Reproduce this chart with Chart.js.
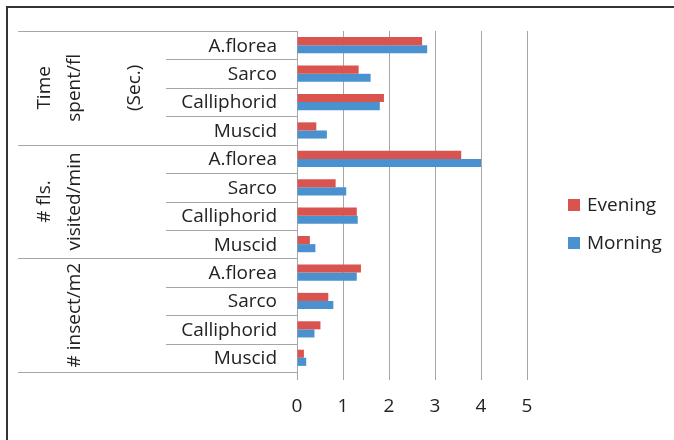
<!DOCTYPE html>
<html>
<head>
<meta charset="utf-8">
<script src="https://cdn.jsdelivr.net/npm/chart.js@4/dist/chart.umd.min.js"></script>
<style>
  html, body { margin: 0; padding: 0; background: #fff; }
  #wrap { width: 674px; height: 440px; position: relative; }
</style>
</head>
<body>
<div id="wrap"><canvas id="c" width="674" height="440"></canvas></div>
<script>
// Insect visitors, grouped by measure (top to bottom)
const insects = ['A.florea', 'Sarco', 'Calliphorid', 'Muscid'];
const groupLines = [
  ['Time', 'spent/fl', '', '(Sec.)'],
  ['# fls.', 'visited/min'],
  ['', '# insect/m2']
];
const categories = [].concat(insects, insects, insects);

const evening = [2.72, 1.34, 1.89, 0.42,  3.57, 0.84, 1.30, 0.28,  1.39, 0.68, 0.51, 0.15];
const morning = [2.83, 1.60, 1.80, 0.65,  4.00, 1.07, 1.32, 0.40,  1.30, 0.79, 0.38, 0.20];
const xTicks = [0, 1, 2, 3, 4, 5];

const FONT = '"Open Sans", sans-serif';
const TEXT = '#222';
const RULE = '#a6a6a6';

// Frame, two-level category axis and legend
const decor = {
  id: 'decor',
  beforeDraw(chart) {
    const ctx = chart.ctx;
    ctx.save();
    ctx.fillStyle = '#fff';
    ctx.fillRect(0, 0, chart.width, chart.height);
    ctx.fillStyle = '#333';
    ctx.fillRect(6, 6, chart.width - 6, 2);
    ctx.fillRect(6, 6, 2, chart.height - 6);
    ctx.restore();
  },
  afterDraw(chart) {
    const ctx = chart.ctx;
    const y = chart.scales.y;
    const area = chart.chartArea;
    const n = categories.length;
    const edge = i => {
      if (i <= 0) return area.top;
      if (i >= n) return area.bottom;
      return (y.getPixelForValue(i - 1) + y.getPixelForValue(i)) / 2;
    };
    const axisX = area.left;
    const outerX = 18, innerX = 166;

    ctx.save();
    ctx.strokeStyle = RULE;
    ctx.lineWidth = 1;
    for (let i = 0; i <= n; i++) {
      const py = Math.round(edge(i)) + 0.5;
      const x0 = (i % insects.length === 0) ? outerX : innerX;
      ctx.beginPath();
      ctx.moveTo(x0, py);
      ctx.lineTo(axisX, py);
      ctx.stroke();
    }

    // insect names
    ctx.fillStyle = TEXT;
    ctx.font = '19px ' + FONT;
    ctx.textAlign = 'right';
    ctx.textBaseline = 'middle';
    categories.forEach((lab, i) => {
      ctx.fillText(lab, axisX - 20, y.getPixelForValue(i) + 1);
    });

    // measure names, rotated
    ctx.textAlign = 'center';
    groupLines.forEach((lines, g) => {
      const cy = (edge(g * insects.length) + edge((g + 1) * insects.length)) / 2;
      lines.forEach((line, k) => {
        if (!line) return;
        const cx = 45 + k * 30;
        ctx.save();
        ctx.translate(cx, cy);
        ctx.rotate(-Math.PI / 2);
        ctx.fillText(line, 0, 0);
        ctx.restore();
      });
    });

    // legend, centred on the whole canvas height
    const lx = area.right + 41;
    const cyMid = chart.height / 2 + 4;
    chart.data.datasets.forEach((ds, k) => {
      const ly = cyMid + (k === 0 ? -19 : 19);
      ctx.fillStyle = ds.backgroundColor;
      ctx.fillRect(lx, ly - 6, 12, 12);
      ctx.fillStyle = TEXT;
      ctx.textAlign = 'left';
      ctx.fillText(ds.label, lx + 19, ly + 1);
    });
    ctx.restore();
  }
};

new Chart(document.getElementById('c'), {
  type: 'bar',
  data: {
    labels: categories,
    datasets: [
      { label: 'Evening', data: evening, backgroundColor: '#D9534F' },
      { label: 'Morning', data: morning, backgroundColor: '#4A92CF' }
    ]
  },
  options: {
    indexAxis: 'y',
    responsive: false,
    animation: false,
    devicePixelRatio: 1,
    layout: { padding: { left: 297, right: 147, top: 31, bottom: 0 } },
    categoryPercentage: 0.57,
    barPercentage: 1,
    plugins: { legend: { display: false }, tooltip: { enabled: false } },
    scales: {
      x: {
        min: xTicks[0],
        max: xTicks[xTicks.length - 1],
        afterBuildTicks(scale) { scale.ticks = xTicks.map(v => ({ value: v })); },
        ticks: { color: TEXT, font: { family: FONT, size: 19 }, padding: 15 },
        grid: { color: RULE, lineWidth: 1, tickLength: 8 },
        border: { display: false },
        afterFit(scale) { scale.height = 68; }
      },
      y: { display: false }
    }
  },
  plugins: [decor]
});
</script>
</body>
</html>
